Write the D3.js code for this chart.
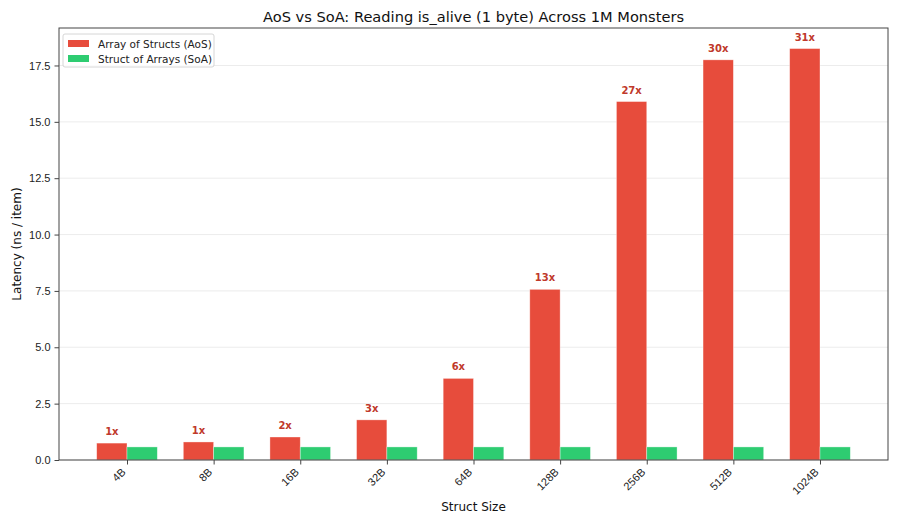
<!DOCTYPE html>
<html>
<head>
<meta charset="utf-8">
<script src="https://cdn.jsdelivr.net/npm/d3@7"></script>
<style>
  body { margin: 0; background: #fff; }
  svg { font-family: "DejaVu Sans", sans-serif; }
</style>
</head>
<body>
<script>
// data
const sizes = ["4B", "8B", "16B", "32B", "64B", "128B", "256B", "512B", "1024B"];
const aosValues = [0.75, 0.80, 1.02, 1.78, 3.62, 7.57, 15.90, 17.75, 18.25];
const soaValues = [0.58, 0.58, 0.58, 0.58, 0.58, 0.58, 0.58, 0.58, 0.58];
const speedupLabels = ["1x", "1x", "2x", "3x", "6x", "13x", "27x", "30x", "31x"];
const yTicks = [0, 2.5, 5, 7.5, 10, 12.5, 15, 17.5];

const w = 900;
const h = 525;
const margin = { top: 28, right: 12, bottom: 65, left: 59 };
const barW = 0.35;

const svg = d3.select("body").append("svg")
  .attr("width", w)
  .attr("height", h);

// * SCALES
const xScale = d3.scaleLinear()
  .domain([-0.785, sizes.length - 1 + 0.785])
  .range([margin.left, w - margin.right]);

const yScale = d3.scaleLinear()
  .domain([0, d3.max(aosValues) * 1.05])
  .range([h - margin.bottom, margin.top]);

// * GRID
svg.append("g")
  .selectAll("line")
  .data(yTicks)
  .enter()
  .append("line")
  .attr("x1", margin.left)
  .attr("x2", w - margin.right)
  .attr("y1", (d) => yScale(d))
  .attr("y2", (d) => yScale(d))
  .attr("stroke", "#b0b0b0")
  .attr("stroke-opacity", 0.3)
  .attr("stroke-width", 0.8);

// * BARS
const groups = sizes.map((s, i) => ({ i, aos: aosValues[i], soa: soaValues[i], label: speedupLabels[i] }));

svg.append("g")
  .selectAll("rect")
  .data(groups)
  .enter()
  .append("rect")
  .attr("x", (d) => xScale(d.i - barW))
  .attr("y", (d) => yScale(d.aos))
  .attr("width", (d) => xScale(barW) - xScale(0))
  .attr("height", (d) => yScale(0) - yScale(d.aos))
  .attr("fill", "#e74c3c")
  .attr("stroke", "#fff")
  .attr("stroke-opacity", 0.5)
  .attr("stroke-width", 0.7);

svg.append("g")
  .selectAll("rect")
  .data(groups)
  .enter()
  .append("rect")
  .attr("x", (d) => xScale(d.i))
  .attr("y", (d) => yScale(d.soa))
  .attr("width", (d) => xScale(barW) - xScale(0))
  .attr("height", (d) => yScale(0) - yScale(d.soa))
  .attr("fill", "#2ecc71")
  .attr("stroke", "#fff")
  .attr("stroke-opacity", 0.5)
  .attr("stroke-width", 0.7);

// speedup labels above AoS bars
svg.append("g")
  .selectAll("text")
  .data(groups)
  .enter()
  .append("text")
  .attr("x", (d) => xScale(d.i - barW / 2))
  .attr("y", (d) => yScale(d.aos) - 8)
  .attr("text-anchor", "middle")
  .attr("font-size", "10px")
  .attr("font-weight", "bold")
  .attr("fill", "#c0392b")
  .text((d) => d.label);

// * AXES
const xAxis = d3.axisBottom(xScale)
  .tickValues(d3.range(sizes.length))
  .tickFormat((d) => sizes[d])
  .tickSizeOuter(0)
  .tickSize(4.5)
  .tickPadding(3);

const gx = svg.append("g")
  .attr("transform", "translate(0," + (h - margin.bottom) + ")")
  .call(xAxis);
gx.select(".domain").remove();
gx.selectAll(".tick line").attr("stroke", "#444");
gx.selectAll(".tick text")
  .attr("font-size", "11px")
  .attr("fill", "#222")
  .attr("text-anchor", "end")
  .attr("x", 0)
  .attr("y", 0)
  .attr("dy", "0.75em")
  .attr("transform", "translate(-7,7) rotate(-45)");

const yAxis = d3.axisLeft(yScale)
  .tickValues(yTicks)
  .tickFormat(d3.format(".1f"))
  .tickSizeOuter(0)
  .tickSize(4.5)
  .tickPadding(4);

const gy = svg.append("g")
  .attr("transform", "translate(" + margin.left + ",0)")
  .call(yAxis);
gy.select(".domain").remove();
gy.selectAll(".tick line").attr("stroke", "#444");
gy.selectAll(".tick text").attr("font-size", "11px").attr("fill", "#222");

// frame
svg.append("rect")
  .attr("x", margin.left)
  .attr("y", margin.top)
  .attr("width", w - margin.left - margin.right)
  .attr("height", h - margin.top - margin.bottom)
  .attr("fill", "none")
  .attr("stroke", "#444")
  .attr("stroke-width", 1);

// * TITLES
svg.append("text")
  .attr("x", (margin.left + w - margin.right) / 2)
  .attr("y", 22)
  .attr("text-anchor", "middle")
  .attr("font-size", "14.6px")
  .attr("fill", "#111")
  .text("AoS vs SoA: Reading is_alive (1 byte) Across 1M Monsters");

svg.append("text")
  .attr("x", (margin.left + w - margin.right) / 2)
  .attr("y", 511)
  .attr("text-anchor", "middle")
  .attr("font-size", "12px")
  .attr("fill", "#111")
  .text("Struct Size");

svg.append("text")
  .attr("transform", "translate(21," + (margin.top + h - margin.bottom) / 2 + ") rotate(-90)")
  .attr("text-anchor", "middle")
  .attr("font-size", "12px")
  .attr("fill", "#111")
  .text("Latency (ns / item)");

// * LEGEND
const legendData = [
  { name: "Array of Structs (AoS)", color: "#e74c3c" },
  { name: "Struct of Arrays (SoA)", color: "#2ecc71" },
];
const legend = svg.append("g").attr("transform", "translate(63,34)");
legend.append("rect")
  .attr("width", 151)
  .attr("height", 33)
  .attr("rx", 2)
  .attr("fill", "#fff")
  .attr("fill-opacity", 0.8)
  .attr("stroke", "#ccc")
  .attr("stroke-width", 0.8);
const items = legend.selectAll("g.item")
  .data(legendData)
  .enter()
  .append("g")
  .attr("class", "item")
  .attr("transform", (d, i) => "translate(5," + (5 + i * 15) + ")");
items.append("rect")
  .attr("width", 21)
  .attr("height", 7)
  .attr("y", 1)
  .attr("fill", (d) => d.color);
items.append("text")
  .attr("x", 30)
  .attr("y", 5)
  .attr("dy", "0.35em")
  .attr("font-size", "10.5px")
  .attr("fill", "#222")
  .text((d) => d.name);
</script>
</body>
</html>
